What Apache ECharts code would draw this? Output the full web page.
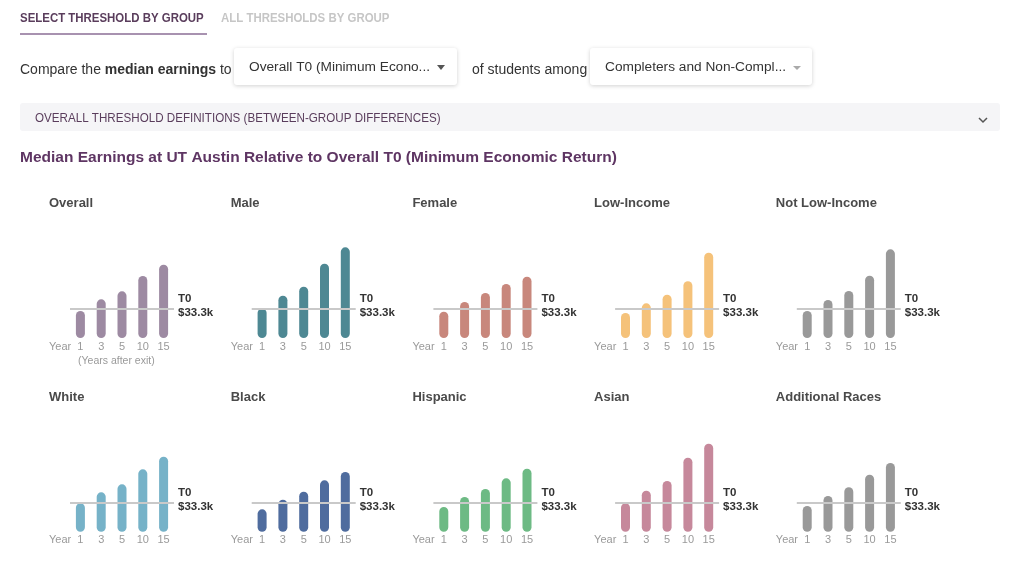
<!DOCTYPE html>
<html>
<head>
<meta charset="utf-8">
<script src="https://cdn.jsdelivr.net/npm/echarts@6/dist/echarts.min.js"></script>
<style>
html,body{margin:0;padding:0;background:#fff;}
#c{width:1024px;height:568px;}
</style>
</head>
<body>
<div id="c"></div>
<script>
// ---- data ----
const years = ['1', '3', '5', '10', '15'];
const groups = ['Overall', 'Male', 'Female', 'Low-Income', 'Not Low-Income',
                'White', 'Black', 'Hispanic', 'Asian', 'Additional Races'];
const overall        = [31.0, 44.4, 53.6, 71.2, 84.2];
const male           = [33.9, 48.6, 58.9, 85.3, 104.1];
const female         = [30.2, 41.3, 51.7, 62.0, 70.4];
const lowIncome      = [28.7, 39.8, 49.7, 65.1, 97.9];
const notLowIncome   = [31.0, 43.6, 54.0, 71.5, 101.8];
const white          = [32.6, 45.2, 54.4, 71.6, 86.1];
const black          = [25.7, 36.7, 45.9, 59.0, 68.5];
const hispanic       = [28.3, 39.8, 49.0, 61.3, 72.3];
const asian          = [32.6, 47.1, 58.2, 85.0, 101.0];
const additionalRaces= [29.5, 41.0, 51.0, 65.4, 78.9];
const threshold = 33.3;
const thresholdName = 'T0';
const thresholdText = '$33.3k';

const seriesValues = [overall, male, female, lowIncome, notLowIncome,
                      white, black, hispanic, asian, additionalRaces];
const colors = ['#9d8aa2', '#4e8893', '#c8877c', '#f5c27a', '#999999',
                '#76b2c8', '#4f6c9e', '#6dba84', '#c6889b', '#999999'];

// ---- layout ----
const FONT = '"Liberation Sans", Arial, sans-serif';
const colStep = 181.7;
const gridLeft0 = 70;
const gridW = 104;
const rowBase = [338, 531.7];
const pxPerK = 0.871;
const yMax = 120;
const gridH = yMax * pxPerK;

const grids = [], xAxes = [], yAxes = [], series = [];
const graphics = [];

groups.forEach((g, i) => {
  const r = Math.floor(i / 5), c = i % 5;
  const left = gridLeft0 + c * colStep;
  const bottomY = rowBase[r];
  grids.push({left: left, top: bottomY - gridH, width: gridW, height: gridH, containLabel: false});
  xAxes.push({
    type: 'category', gridIndex: i, data: years,
    axisLine: {show: false}, axisTick: {show: false},
    axisLabel: {color: '#9a9a9a', fontSize: 11, fontFamily: FONT, margin: 3, interval: 0}
  });
  yAxes.push({
    type: 'value', gridIndex: i, min: 0, max: yMax,
    show: false, splitLine: {show: false}
  });
  series.push({
    type: 'bar', xAxisIndex: i, yAxisIndex: i,
    data: seriesValues[i], barWidth: 9,
    itemStyle: {color: colors[i], borderRadius: 4.5},
    silent: true,
    markLine: {
      silent: true, symbol: 'none',
      lineStyle: {color: '#c9c9c9', width: 2, type: 'solid'},
      label: {
        position: 'end', distance: 4,
        formatter: thresholdName + '\n' + thresholdText,
        color: '#333', fontWeight: 'bold', fontSize: 11.5, fontFamily: FONT,
        lineHeight: 14, align: 'left', offset: [0, -3]
      },
      data: [{yAxis: threshold}]
    },
    z: 2
  });
  // group title
  graphics.push({
    type: 'text', left: left - 21, top: (r === 0 ? 202 : 396) - 5,
    style: {text: g, fill: '#4a4a4a', font: 'bold 13px ' + FONT}
  });
  // "Year" label
  graphics.push({
    type: 'text', left: left - 21, top: bottomY + 3,
    style: {text: 'Year', fill: '#9a9a9a', font: '11px ' + FONT}
  });
  if (i === 0) {
    graphics.push({
      type: 'text', left: left + 8, top: bottomY + 18,
      style: {text: '(Years after exit)', fill: '#9a9a9a', font: '10.5px ' + FONT}
    });
  }
});

// ---- header UI ----
graphics.push(
  {type: 'text', x: 20, y: 12, scaleX: 0.88, style: {text: 'SELECT THRESHOLD BY GROUP', fill: '#5a3d5c', font: 'bold 13px ' + FONT}},
  {type: 'rect', shape: {x: 20, y: 33, width: 187, height: 2}, style: {fill: '#a892b0'}},
  {type: 'text', x: 221, y: 12, scaleX: 0.88, style: {text: 'ALL THRESHOLDS BY GROUP', fill: '#c6c6c6', font: 'bold 13px ' + FONT}},
  {type: 'text', left: 20, top: 63, style: {
    text: 'Compare the {b|median earnings} to', fill: '#333', font: '14px ' + FONT,
    rich: {b: {fontWeight: 'bold', fontSize: 14, fontFamily: FONT, fill: '#333'}}
  }},
  {type: 'rect', shape: {x: 234, y: 48, width: 223, height: 37, r: 3},
    style: {fill: '#fff', shadowBlur: 4, shadowColor: 'rgba(0,0,0,0.18)', shadowOffsetY: 1}},
  {type: 'text', left: 249, top: 60, style: {text: 'Overall T0 (Minimum Econo...', fill: '#333', font: '13.7px ' + FONT}},
  {type: 'polygon', shape: {points: [[437, 65], [445, 65], [441, 70]]}, style: {fill: '#555'}},
  {type: 'text', left: 472, top: 63, style: {text: 'of students among', fill: '#333', font: '14px ' + FONT}},
  {type: 'rect', shape: {x: 590, y: 48, width: 222, height: 37, r: 3},
    style: {fill: '#fff', shadowBlur: 4, shadowColor: 'rgba(0,0,0,0.18)', shadowOffsetY: 1}},
  {type: 'text', left: 605, top: 60, style: {text: 'Completers and Non-Compl...', fill: '#333', font: '13.7px ' + FONT}},
  {type: 'polygon', shape: {points: [[793, 66], [801, 66], [797, 70]]}, style: {fill: '#aaa'}},
  {type: 'rect', shape: {x: 20, y: 103, width: 980, height: 28, r: 3}, style: {fill: '#f5f5f7'}},
  {type: 'text', x: 35, y: 112, scaleX: 0.894, style: {text: 'OVERALL THRESHOLD DEFINITIONS (BETWEEN-GROUP DIFFERENCES)', fill: '#5a3d5c', font: '13px ' + FONT}},
  {type: 'polyline', shape: {points: [[979, 118], [983, 122], [987, 118]]}, style: {stroke: '#555', lineWidth: 1.5, fill: null}},
  {type: 'text', left: 20, top: 150, style: {text: 'Median Earnings at UT Austin Relative to Overall T0 (Minimum Economic Return)', fill: '#5e3563', font: 'bold 15.5px ' + FONT}}
);

const chart = echarts.init(document.getElementById('c'), null, {renderer: 'canvas'});
chart.setOption({
  animation: false,
  backgroundColor: '#fff',
  grid: grids, xAxis: xAxes, yAxis: yAxes, series: series,
  graphic: {elements: graphics}
});
</script>
</body>
</html>
